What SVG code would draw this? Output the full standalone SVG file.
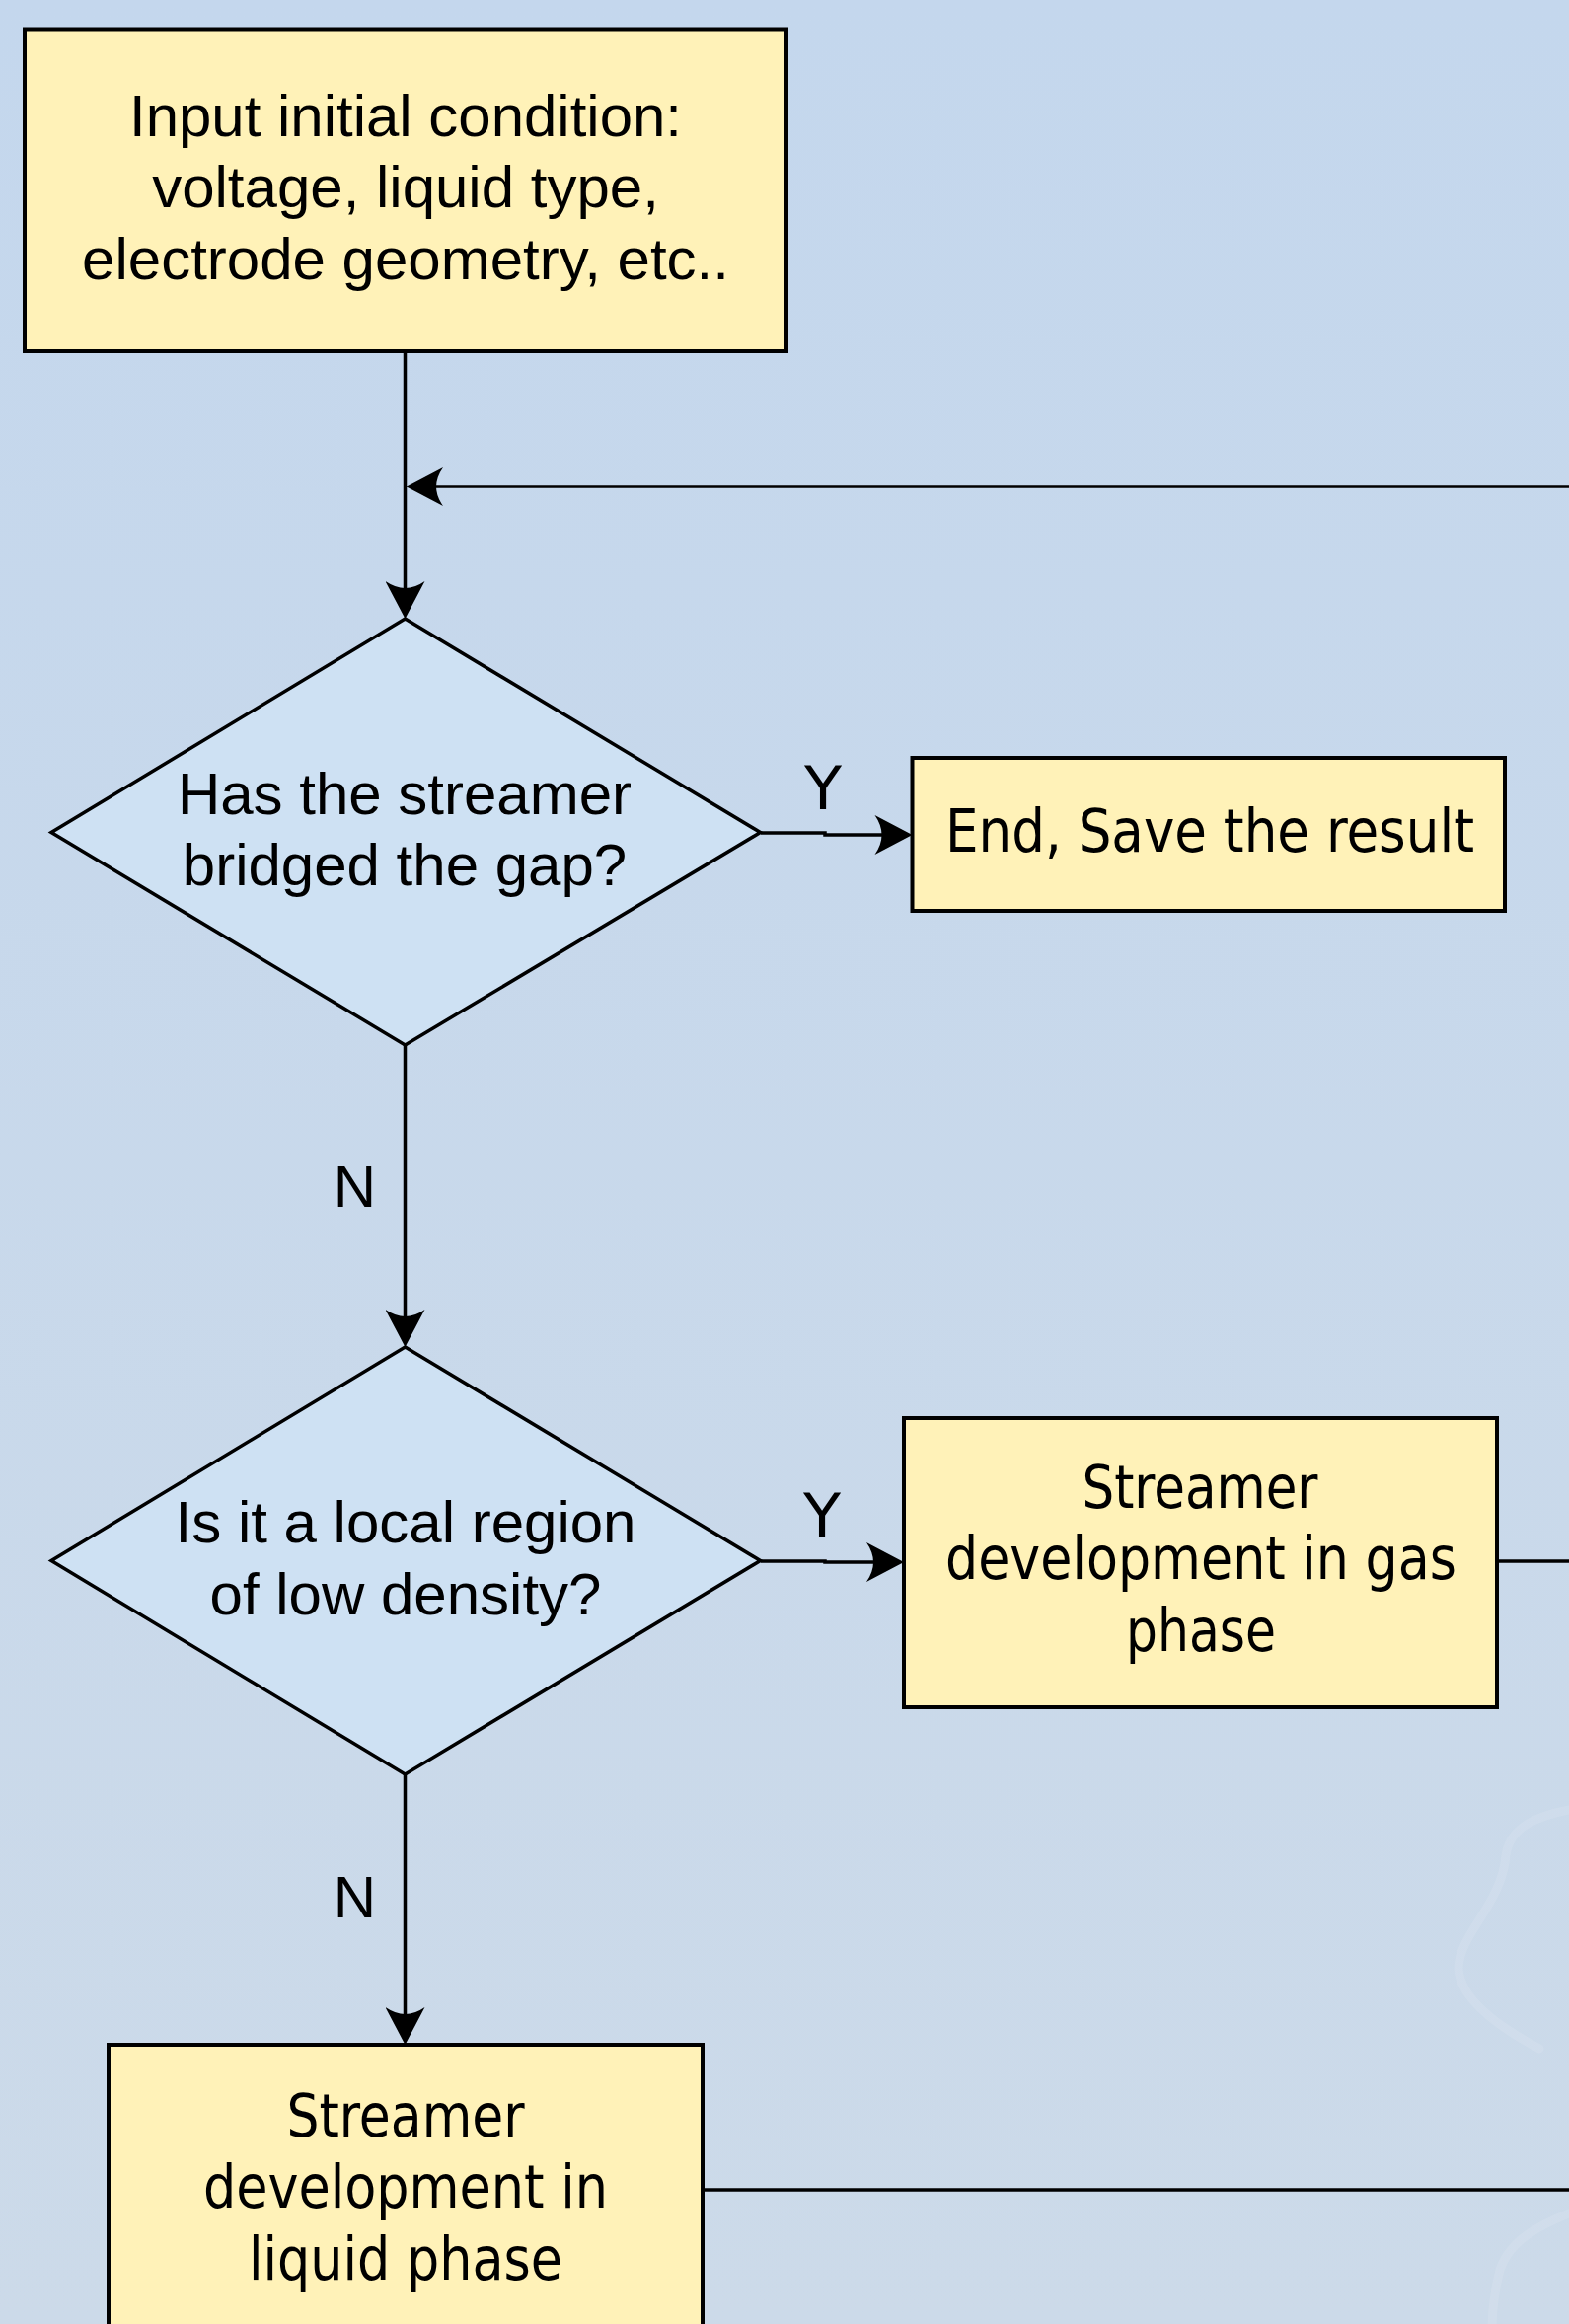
<svg xmlns="http://www.w3.org/2000/svg" width="1590" height="2355" viewBox="0 0 1590 2355">
  <style>
    .box { fill: #FFF2B8; stroke: #000; stroke-width: 4; }
    .dia { fill: #CEE1F3; stroke: #000; stroke-width: 3.5; stroke-linejoin: miter; }
    .con { fill: none; stroke: #000; stroke-width: 3.5; }
    .arial { font-family: "Liberation Sans", Arial, sans-serif; font-size: 60px; fill: #000; text-anchor: middle; }
    .tah { font-family: "DejaVu Sans Condensed", "DejaVu Sans", sans-serif; font-size: 60px; fill: #000; text-anchor: middle; }
    .swirl { fill: none; stroke: #FFFFFF; stroke-opacity: 0.1; stroke-width: 9; stroke-linecap: round; }
  </style>
  <defs>
    <linearGradient id="bg" x1="0" y1="0" x2="0" y2="1">
      <stop offset="0" stop-color="#C4D7ED"/>
      <stop offset="1" stop-color="#CCDAE9"/>
    </linearGradient>
    <marker id="arr" markerUnits="userSpaceOnUse" markerWidth="40" markerHeight="40" viewBox="0 0 38 40" refX="8" refY="20" orient="auto">
      <path d="M0,0 Q14,20 0,40 L38,20 Z" fill="#000"/>
    </marker>
  </defs>

  <rect x="0" y="0" width="1590" height="2355" fill="url(#bg)"/>
  <g id="decor">
    <path class="swirl" d="M1590,1834 C1560,1840 1530,1850 1526,1880 C1522,1930 1478,1960 1478,1995 C1480,2030 1530,2060 1560,2076"/>
    <path class="swirl" d="M1590,2243 C1560,2255 1530,2270 1520,2300 C1515,2320 1512,2340 1512,2360"/>
  </g>

  <g id="connectors">
    <path class="con" d="M410.5,356 V597" marker-end="url(#arr)"/>
    <path class="con" d="M1590,493 H441" marker-end="url(#arr)"/>
    <path class="con" d="M410.5,1059 V1335" marker-end="url(#arr)"/>
    <path class="con" d="M410.5,1798 V2042" marker-end="url(#arr)"/>
    <path class="con" d="M771,844 H836 V846 H894.5" marker-end="url(#arr)"/>
    <path class="con" d="M771,1582 H836 V1583 H886" marker-end="url(#arr)"/>
    <path class="con" d="M1517,1582 H1590"/>
    <path class="con" d="M712,2219 H1590"/>
    <text class="tah" x="834" y="820" textLength="38" lengthAdjust="spacingAndGlyphs">Y</text>
    <text class="tah" x="833" y="1557" textLength="38" lengthAdjust="spacingAndGlyphs">Y</text>
    <text class="arial" x="359.5" y="1223">N</text>
    <text class="arial" x="359.5" y="1943">N</text>
  </g>

  <g id="input">
    <rect class="box" x="25" y="29.5" width="772" height="326.5"/>
    <text class="arial" x="411" y="138" textLength="560" lengthAdjust="spacingAndGlyphs">Input initial condition:</text>
    <text class="arial" x="411" y="210">voltage, liquid type,</text>
    <text class="arial" x="411" y="283">electrode geometry, etc..</text>
  </g>

  <g id="decision1">
    <polygon class="dia" points="410.5,627 770.5,843.5 410.5,1059 52,843.5"/>
    <text class="arial" x="410" y="825">Has the streamer</text>
    <text class="arial" x="410" y="897">bridged the gap?</text>
  </g>

  <g id="end">
    <rect class="box" x="924.5" y="768" width="600.5" height="155"/>
    <text class="tah" x="1226" y="863" textLength="536" lengthAdjust="spacingAndGlyphs">End, Save the result</text>
  </g>

  <g id="decision2">
    <polygon class="dia" points="410.5,1365 770.5,1581.5 410.5,1798 52,1581.5"/>
    <text class="arial" x="411" y="1563">Is it a local region</text>
    <text class="arial" x="411" y="1636">of low density?</text>
  </g>

  <g id="gas">
    <rect class="box" x="916" y="1437" width="601" height="293"/>
    <text class="tah" x="1216" y="1528" textLength="239" lengthAdjust="spacingAndGlyphs">Streamer</text>
    <text class="tah" x="1217" y="1600" textLength="518" lengthAdjust="spacingAndGlyphs">development in gas</text>
    <text class="tah" x="1217" y="1673" textLength="152" lengthAdjust="spacingAndGlyphs">phase</text>
  </g>

  <g id="liquid">
    <rect class="box" x="110" y="2072" width="602" height="400"/>
    <text class="tah" x="411" y="2165" textLength="241" lengthAdjust="spacingAndGlyphs">Streamer</text>
    <text class="tah" x="411" y="2237" textLength="410" lengthAdjust="spacingAndGlyphs">development in</text>
    <text class="tah" x="411" y="2310" textLength="318" lengthAdjust="spacingAndGlyphs">liquid phase</text>
  </g>
</svg>
